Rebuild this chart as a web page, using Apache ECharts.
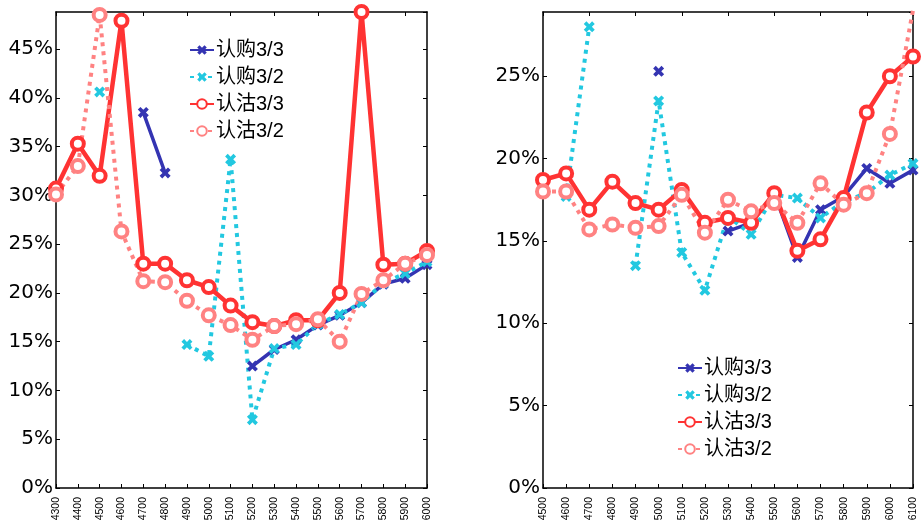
<!DOCTYPE html>
<html>
<head>
<meta charset="utf-8">
<script src="https://cdn.jsdelivr.net/npm/echarts@6/dist/echarts.min.js"></script>
<style>
html,body{margin:0;padding:0;background:#fff;}
#chart{width:922px;height:524px;}
</style>
</head>
<body>
<div id="chart"></div>
<script>
// ---- data ----
const seriesNames = ['认购3/3', '认购3/2', '认沽3/3', '认沽3/2'];

const leftCategories = ['4300','4400','4500','4600','4700','4800','4900','5000','5100','5200','5300','5400','5500','5600','5700','5800','5900','6000'];
const leftCall33 = [null, null, null, null, 38.5, 32.3, null, null, null, 12.5, 14.2, 15.2, 16.7, 17.7, 19.0, 20.9, 21.5, 22.9];
const leftCall32 = [null, null, 40.6, null, null, null, 14.7, 13.5, 33.7, 7.0, 14.3, 14.7, 16.8, 17.8, 19.0, 21.0, 22.0, 23.2];
const leftPut33  = [30.7, 35.3, 32.0, 47.9, 23.0, 23.0, 21.3, 20.6, 18.7, 17.0, 16.6, 17.2, 17.2, 20.0, 48.8, 22.9, 23.0, 24.3];
const leftPut32  = [30.1, 33.0, 48.5, 26.3, 21.2, 21.1, 19.2, 17.7, 16.7, 15.2, 16.6, 16.8, 17.3, 15.0, 19.9, 21.3, 23.0, 23.9];

const rightCategories = ['4500','4600','4700','4800','4900','5000','5100','5200','5300','5400','5500','5600','5700','5800','5900','6000','6100'];
const rightCall33 = [null, null, null, null, null, 25.3, null, null, 15.6, 16.1, 17.9, 14.0, 16.9, 17.7, 19.4, 18.5, 19.3];
const rightCall32 = [null, 17.7, 28.0, null, 13.5, 23.5, 14.3, 12.0, 16.5, 15.4, 17.8, 17.6, 16.4, 17.4, 17.9, 19.0, 19.7];
const rightPut33  = [18.7, 19.1, 16.9, 18.6, 17.3, 16.9, 18.1, 16.1, 16.4, 16.1, 17.9, 14.4, 15.1, 17.6, 22.8, 25.0, 26.2];
const rightPut32  = [18.0, 18.0, 15.7, 16.0, 15.8, 15.9, 17.8, 15.5, 17.5, 16.8, 17.3, 16.1, 18.5, 17.2, 17.9, 21.5, 29.0];

const leftYMax = 48.8;
const rightYMax = 28.9;
const yInterval = 5;

// ---- styles ----
const FONT = '"Liberation Sans", Arial, "Noto Sans CJK SC", sans-serif';
const YFONT = '"DejaVu Sans", "Liberation Sans", sans-serif';
const COL = { call33: '#3434b2', call32: '#22c8e0', put33: '#ff3333', put32: '#ff8282' };
const XSYM = 'path://M0,2.4 L2.4,0 L5,2.6 L7.6,0 L10,2.4 L7.4,5 L10,7.6 L7.6,10 L5,7.4 L2.4,10 L0,7.6 L2.6,5 Z';

function makeSeries(grid, data) {
  const [c33, c32, p33, p32] = data;
  const base = { type: 'line', xAxisIndex: grid * 2, yAxisIndex: grid * 2, showAllSymbol: true, connectNulls: false, animation: false };
  return [
    Object.assign({}, base, { name: seriesNames[0], data: c33, symbol: XSYM, symbolSize: 11,
      itemStyle: { color: COL.call33 }, lineStyle: { color: COL.call33, width: 3.5 } }),
    Object.assign({}, base, { name: seriesNames[1], data: c32, symbol: XSYM, symbolSize: 11,
      itemStyle: { color: COL.call32 }, lineStyle: { color: COL.call32, width: 4, type: [4, 5], cap: 'butt' } }),
    Object.assign({}, base, { name: seriesNames[2], data: p33, symbol: 'circle', symbolSize: 12,
      itemStyle: { color: '#fff', borderColor: COL.put33, borderWidth: 4 }, lineStyle: { color: COL.put33, width: 4.5 } }),
    Object.assign({}, base, { name: seriesNames[3], data: p32, symbol: 'circle', symbolSize: 12,
      itemStyle: { color: '#fff', borderColor: COL.put32, borderWidth: 4 }, lineStyle: { color: COL.put32, width: 4, type: [4, 5], cap: 'butt' } })
  ];
}

function xAxes(grid, cats) {
  const common = { type: 'category', data: cats, gridIndex: grid, boundaryGap: false,
    axisLine: { onZero: false, lineStyle: { color: '#000', width: 1.5 } },
    axisTick: { inside: true, length: 4, alignWithLabel: true, lineStyle: { color: '#000', width: 1 } },
    splitLine: { show: false } };
  return [
    Object.assign({}, common, { position: 'bottom',
      axisLabel: { rotate: 90, fontSize: 10.5, color: '#000', fontFamily: FONT, margin: 9, interval: 0, overflow: 'none' } }),
    Object.assign({}, common, { position: 'top', axisLabel: { show: false } })
  ];
}

function yAxes(grid, max) {
  const common = { type: 'value', gridIndex: grid, min: 0, max: max, interval: yInterval,
    axisLine: { show: true, onZero: false, lineStyle: { color: '#000', width: 1.5 } },
    axisTick: { show: true, inside: true, length: 4, lineStyle: { color: '#000', width: 1 } },
    splitLine: { show: false } };
  return [
    Object.assign({}, common, { position: 'left',
      axisLabel: { formatter: '{value}%', fontSize: 20, color: '#000', fontFamily: YFONT, margin: 3, showMaxLabel: false } }),
    Object.assign({}, common, { position: 'right', axisLabel: { show: false } })
  ];
}

const chart = echarts.init(document.getElementById('chart'), null, { renderer: 'canvas' });
chart.setOption({
  backgroundColor: '#fff',
  animation: false,
  textStyle: { fontFamily: FONT },
  grid: [
    { left: 56, top: 12, width: 371, height: 476 },
    { left: 543, top: 12, width: 370, height: 476 }
  ],
  xAxis: [...xAxes(0, leftCategories), ...xAxes(1, rightCategories)],
  yAxis: [...yAxes(0, leftYMax), ...yAxes(1, rightYMax)],
  legend: [
    { left: 189, top: 40, orient: 'vertical', itemWidth: 24, itemHeight: 12, itemGap: 7, data: seriesNames,
      textStyle: { fontSize: 20, color: '#000', fontFamily: FONT, padding: [0, 0, 0, -3] }, padding: 0 },
    { left: 677, top: 358, orient: 'vertical', itemWidth: 24, itemHeight: 12, itemGap: 7, data: seriesNames,
      textStyle: { fontSize: 20, color: '#000', fontFamily: FONT, padding: [0, 0, 0, -3] }, padding: 0 }
  ],
  series: [
    ...makeSeries(0, [leftCall33, leftCall32, leftPut33, leftPut32]),
    ...makeSeries(1, [rightCall33, rightCall32, rightPut33, rightPut32])
  ]
});
</script>
</body>
</html>
